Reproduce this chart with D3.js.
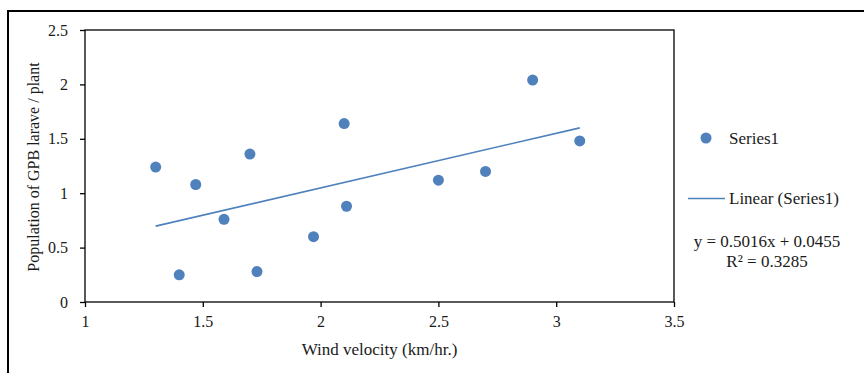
<!DOCTYPE html>
<html>
<head>
<meta charset="utf-8">
<script src="https://cdn.jsdelivr.net/npm/d3@7"></script>
<style>
  body { margin: 0; background: #fff; }
  text { font-family: "Liberation Serif", "Times New Roman", serif; fill: #1a1a1a; }
</style>
</head>
<body>
<svg id="chart" width="864" height="373"></svg>
<script>
// wind velocity (km/hr.) vs. GPB larvae per plant
const windVelocity = [1.3, 1.4, 1.47, 1.59, 1.7, 1.73, 1.97, 2.1, 2.11, 2.5, 2.7, 2.9, 3.1];
const larvaePerPlant = [1.24, 0.25, 1.08, 0.76, 1.36, 0.28, 0.60, 1.64, 0.88, 1.12, 1.20, 2.04, 1.48];
const xTicks = [1, 1.5, 2, 2.5, 3, 3.5];
const yTicks = [0, 0.5, 1, 1.5, 2, 2.5];
const slope = 0.5016, intercept = 0.0455, rSquared = 0.3285;

const blue = "#4F81BD";
const svg = d3.select("#chart");
const margin = {left: 85, top: 30, right: 190, bottom: 71};
const width = 864 - margin.left - margin.right,
      height = 373 - margin.top - margin.bottom;

// outer frame (cropped on right/bottom)
svg.append("path")
  .attr("d", "M8,373 V11 H864")
  .attr("fill", "none")
  .attr("stroke", "#000")
  .attr("stroke-width", 2);

const g = svg.append("g").attr("transform", `translate(${margin.left},${margin.top})`);

let x = d3.scaleLinear().domain([1, 3.5]).range([0, width]);
let y = d3.scaleLinear().domain([0, 2.5]).range([height, 0]);

g.append("rect")
  .attr("width", width).attr("height", height)
  .attr("fill", "none").attr("stroke", "#000").attr("stroke-width", 1.3);

let xAxis = g.append("g")
  .attr("transform", `translate(0,${height})`)
  .call(d3.axisBottom(x).tickValues(xTicks).tickSize(5).tickPadding(9).tickFormat(d3.format("")));
let yAxis = g.append("g")
  .call(d3.axisLeft(y).tickValues(yTicks).tickSize(5).tickPadding(12).tickFormat(d3.format("")));

[xAxis, yAxis].forEach(a => {
  a.attr("font-family", "Liberation Serif").attr("font-size", 16);
  a.select(".domain").remove();
  a.selectAll("line").attr("stroke", "#000").attr("stroke-width", 1.3);
  a.selectAll("text").attr("fill", "#1a1a1a");
});

// trendline
let xr = d3.extent(windVelocity);
g.append("line")
  .attr("x1", x(xr[0])).attr("y1", y(slope * xr[0] + intercept))
  .attr("x2", x(xr[1])).attr("y2", y(slope * xr[1] + intercept))
  .attr("stroke", blue).attr("stroke-width", 1.6);

g.selectAll("circle.pt")
  .data(windVelocity.map((v, i) => [v, larvaePerPlant[i]]))
  .join("circle")
  .attr("class", "pt")
  .attr("cx", d => x(d[0]))
  .attr("cy", d => y(d[1]))
  .attr("r", 5.5)
  .attr("fill", blue);

// axis titles
svg.append("text")
  .attr("x", margin.left + width / 2).attr("y", 355)
  .attr("text-anchor", "middle").style("font-size", "17px")
  .text("Wind velocity  (km/hr.)");
svg.append("text")
  .attr("transform", `translate(39,167) rotate(-90)`)
  .attr("text-anchor", "middle").style("font-size", "16px")
  .text("Population of GPB larave  / plant");

// legend
const lg = svg.append("g");
lg.append("circle").attr("cx", 706).attr("cy", 138).attr("r", 5.5).attr("fill", blue);
lg.append("text").attr("x", 729).attr("y", 144).style("font-size", "17px").text("Series1");
lg.append("line").attr("x1", 688).attr("x2", 725).attr("y1", 198.5).attr("y2", 198.5)
  .attr("stroke", blue).attr("stroke-width", 1.6);
lg.append("text").attr("x", 729).attr("y", 204).style("font-size", "17px").text("Linear (Series1)");
lg.append("text").attr("x", 767).attr("y", 247).attr("text-anchor", "middle").style("font-size", "17px")
  .text(`y = ${slope}x  + ${intercept}`);
lg.append("text").attr("x", 767).attr("y", 267).attr("text-anchor", "middle").style("font-size", "17px")
  .text(`R² = ${rSquared}`);
</script>
</body>
</html>
